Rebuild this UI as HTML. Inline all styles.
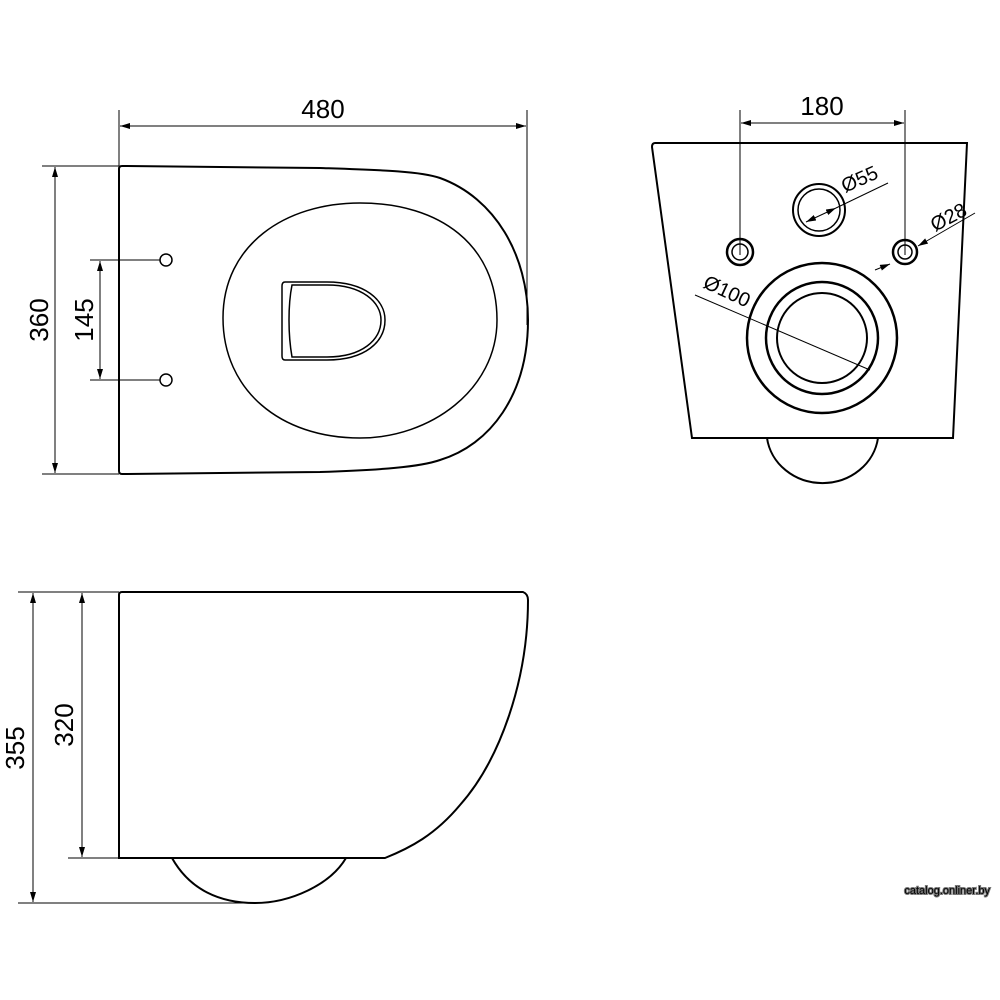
<!DOCTYPE html>
<html><head><meta charset="utf-8"><style>
html,body{margin:0;padding:0;background:#fff;}
svg{display:block}
text{font-family:"Liberation Sans",sans-serif;fill:#000}
</style></head><body>
<svg width="1000" height="1000" viewBox="0 0 1000 1000" xmlns="http://www.w3.org/2000/svg">
<defs>
<marker id="a" viewBox="0 0 10 6" refX="10" refY="3" markerWidth="10" markerHeight="6" orient="auto-start-reverse" markerUnits="userSpaceOnUse"><path d="M0,0 L10,3 L0,6z" fill="#000"/></marker>
</defs>
<g fill="none" stroke="#000" stroke-width="1">
<line x1="119" y1="110" x2="119" y2="166"/>
<line x1="527" y1="110" x2="527" y2="325"/>
<line x1="120" y1="126" x2="526" y2="126" marker-start="url(#a)" marker-end="url(#a)"/>
<line x1="42" y1="166" x2="119" y2="166"/>
<line x1="42" y1="474" x2="119" y2="474"/>
<line x1="55" y1="167" x2="55" y2="473" marker-start="url(#a)" marker-end="url(#a)"/>
<line x1="90" y1="260" x2="160" y2="260"/>
<line x1="90" y1="380" x2="160" y2="380"/>
<line x1="100" y1="261" x2="100" y2="379" marker-start="url(#a)" marker-end="url(#a)"/>
</g>
<g fill="none" stroke="#000" stroke-width="2">
<path d="M122,166 L320,168 C380,170 420,171 440,178 C495,198 528,255 528,320 C528,395 490,445 440,460 C420,467 380,470 320,472 L122,474 Q119,474 119,471 L119,169 Q119,166 122,166 Z"/>
</g>
<g fill="none" stroke="#000" stroke-width="1.5">
<path d="M360,203 C440,203 497,245 497,320 C497,390 430,438 360,438 C280,438 223,390 223,318 C223,245 285,203 360,203 Z"/>
<path d="M285,282 L327,282 C365,282 385,300 385,320 C385,342 365,360 327,360 L285,360 Q282,360 282,356 L282,286 Q282,282 285,282 Z"/>
<path d="M292,285 L327,285 C362,285 381,302 381,320 C381,340 362,357 327,357 L292,357 Q289,340 289,320 Q289,300 292,285 Z"/>
<circle cx="166" cy="260" r="6"/>
<circle cx="166" cy="380" r="6"/>
</g>
<text x="323" y="118" font-size="26" text-anchor="middle">480</text>
<text transform="translate(48,320) rotate(-90)" font-size="26" text-anchor="middle">360</text>
<text transform="translate(93,320) rotate(-90)" font-size="26" text-anchor="middle">145</text>

<g fill="none" stroke="#000" stroke-width="1">
<line x1="740" y1="110" x2="740" y2="255"/>
<line x1="905" y1="110" x2="905" y2="255"/>
<line x1="741" y1="123" x2="904" y2="123" marker-start="url(#a)" marker-end="url(#a)"/>
<line x1="806" y1="222" x2="836" y2="208" marker-start="url(#a)" marker-end="url(#a)"/>
<line x1="836" y1="208" x2="888" y2="183"/>
<line x1="875" y1="270" x2="890" y2="264" marker-end="url(#a)"/>
<line x1="975" y1="213" x2="918" y2="246" marker-end="url(#a)"/>
<line x1="695" y1="295" x2="870" y2="370"/>
</g>
<g fill="none" stroke="#000" stroke-width="2">
<path d="M655,143 L967,143 L953,438 L692,438 L652,147 Q652,143 655,143 Z"/>
<path d="M767,438 A56,52 0 0 0 878,438"/>
<circle cx="819" cy="210" r="26"/>
<circle cx="819" cy="210" r="21" stroke-width="1.5"/>
<circle cx="740" cy="252" r="13" stroke-width="2.5"/>
<circle cx="740" cy="252" r="8" stroke-width="1.5"/>
<circle cx="905" cy="252" r="12" stroke-width="2.5"/>
<circle cx="905" cy="252" r="7" stroke-width="1.5"/>
<circle cx="822" cy="338" r="75" stroke-width="2.5"/>
<circle cx="822" cy="338" r="56" stroke-width="2.5"/>
<circle cx="822" cy="338" r="45" stroke-width="2"/>
</g>
<text x="822" y="115" font-size="26" text-anchor="middle">180</text>
<text transform="translate(845,193) rotate(-24)" font-size="20">Ø55</text>
<text transform="translate(935,232) rotate(-28)" font-size="20">Ø28</text>
<text transform="translate(702,287) rotate(25)" font-size="20">Ø100</text>

<g fill="none" stroke="#000" stroke-width="1">
<line x1="18" y1="592" x2="119" y2="592"/>
<line x1="18" y1="903" x2="255" y2="903"/>
<line x1="68" y1="858" x2="119" y2="858"/>
<line x1="33" y1="593" x2="33" y2="902" marker-start="url(#a)" marker-end="url(#a)"/>
<line x1="82" y1="593" x2="82" y2="857" marker-start="url(#a)" marker-end="url(#a)"/>
</g>
<g fill="none" stroke="#000" stroke-width="2">
<path d="M122,592 L523,592 Q528,594 528,600 C528,680 500,760 460,805 C435,835 410,848 385,858 L119,858 L119,595 Q119,592 122,592 Z"/>
<path d="M172,858 C190,890 220,903 255,903 C290,903 330,885 346,858"/>
</g>
<text transform="translate(24,748) rotate(-90)" font-size="26" text-anchor="middle">355</text>
<text transform="translate(73,725) rotate(-90)" font-size="26" text-anchor="middle">320</text>
<text x="990" y="894" font-size="11" text-anchor="end" fill="#fff" stroke="#777" stroke-width="2" paint-order="stroke">catalog.onliner.by</text>
</svg>
</body></html>
